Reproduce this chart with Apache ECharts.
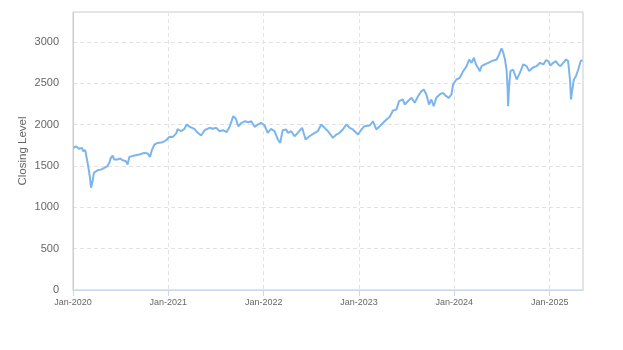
<!DOCTYPE html>
<html>
<head>
<meta charset="utf-8">
<script src="https://cdn.jsdelivr.net/npm/echarts@6/dist/echarts.min.js"></script>
<style>
  html, body { margin: 0; padding: 0; background: #fff; }
  #chart { width: 623px; height: 350px; }
</style>
</head>
<body>
<div id="chart"></div>
<script>
// Closing level observations (date, close)
const dates = [
  '2020-01-02','2020-01-12','2020-01-17','2020-01-25','2020-02-04','2020-02-09','2020-02-17','2020-02-21','2020-02-28',
  '2020-03-06','2020-03-10','2020-03-16','2020-03-21','2020-03-26','2020-04-04','2020-04-17','2020-04-30','2020-05-12',
  '2020-05-19','2020-05-25','2020-06-01','2020-06-07','2020-06-20','2020-06-30','2020-07-09','2020-07-22','2020-07-28',
  '2020-08-04','2020-08-23','2020-09-11','2020-09-30','2020-10-13','2020-10-22','2020-10-30','2020-11-08','2020-11-20',
  '2020-11-27','2020-12-10','2020-12-16','2020-12-23',
  '2021-01-04','2021-01-17','2021-01-30','2021-02-05','2021-02-18','2021-02-24','2021-03-03','2021-03-12','2021-03-22',
  '2021-03-28','2021-04-10','2021-04-23','2021-05-06','2021-05-19','2021-06-07','2021-06-20','2021-07-03','2021-07-16',
  '2021-07-29','2021-08-11','2021-08-24','2021-09-06','2021-09-16','2021-09-25','2021-10-08','2021-10-21','2021-11-03',
  '2021-11-14','2021-11-27','2021-12-10','2021-12-22',
  '2022-01-04','2022-01-16','2022-01-29','2022-02-11','2022-02-24','2022-03-05','2022-03-14','2022-03-21','2022-03-28',
  '2022-04-03','2022-04-10','2022-04-16','2022-04-29','2022-05-11','2022-05-28','2022-06-10','2022-06-25','2022-07-15',
  '2022-07-27','2022-08-09','2022-08-22','2022-09-04','2022-09-23','2022-10-06','2022-10-18','2022-10-31','2022-11-13',
  '2022-11-26','2022-12-08','2022-12-28',
  '2023-01-10','2023-01-22','2023-02-11','2023-02-23','2023-03-08','2023-03-21','2023-04-03','2023-04-16','2023-04-28',
  '2023-05-11','2023-05-24','2023-06-03','2023-06-09','2023-06-18','2023-06-25','2023-07-07','2023-07-21','2023-08-02',
  '2023-08-15','2023-08-28','2023-09-06','2023-09-16','2023-09-26','2023-10-05','2023-10-14','2023-10-24','2023-11-06',
  '2023-11-18','2023-12-01','2023-12-11','2023-12-21','2023-12-27',
  '2024-01-09','2024-01-22','2024-02-04','2024-02-17','2024-02-27','2024-03-07','2024-03-16','2024-03-24','2024-04-01',
  '2024-04-08','2024-04-14','2024-04-27','2024-05-10','2024-05-16','2024-05-23','2024-05-30','2024-06-11','2024-06-21',
  '2024-06-30','2024-07-06','2024-07-13','2024-07-19','2024-07-23','2024-07-25','2024-07-29','2024-08-03','2024-08-13',
  '2024-08-20','2024-08-27','2024-09-02','2024-09-08','2024-09-21','2024-10-04','2024-10-14','2024-10-27','2024-11-11',
  '2024-11-24','2024-12-07','2024-12-17','2024-12-26',
  '2025-01-03','2025-01-14','2025-01-24','2025-02-02','2025-02-11','2025-02-21','2025-03-04','2025-03-12','2025-03-19',
  '2025-03-23','2025-03-28','2025-04-03','2025-04-11','2025-04-20','2025-04-29','2025-05-06'
];
const closes = [
  1718,1737,1755,1706,1718,1680,1690,1620,1500,
  1360,1236,1314,1415,1435,1447,1455,1476,1496,
  1537,1597,1625,1577,1577,1590,1568,1556,1516,
  1609,1625,1637,1657,1651,1609,1697,1758,1778,
  1778,1786,1798,1810,
  1851,1850,1890,1945,1919,1907,1948,2000,1975,
  1960,1948,1900,1867,1931,1960,1948,1960,1919,
  1931,1907,1980,2101,2069,1980,2021,2040,2028,
  2040,1972,2000,2021,
  1988,1900,1948,1919,1819,1778,1930,1940,1940,
  1900,1900,1919,1858,1900,1960,1819,1858,1900,
  1919,2000,1960,1919,1839,1879,1900,1940,2000,
  1960,1940,1879,
  1940,1980,1988,2040,1940,1980,2021,2061,2090,
  2170,2180,2282,2290,2302,2242,2282,2323,2262,
  2342,2403,2423,2363,2242,2302,2221,2323,2363,
  2383,2342,2323,2363,2484,
  2544,2565,2645,2705,2786,2746,2807,2726,2686,
  2645,2705,2726,2746,2766,2766,2746,2786,2850,
  2920,2875,2786,2665,2444,2221,2464,2645,2665,
  2686,2544,2524,2625,2726,2705,2645,2686,2705,
  2746,2726,2778,2766,
  2714,2746,2766,2726,2705,2746,2786,2766,2544,
  2302,2423,2544,2584,2665,2766,2780
];
const xTickLabels = ['Jan-2020','Jan-2021','Jan-2022','Jan-2023','Jan-2024','Jan-2025'];
const yTicks = [0, 500, 1000, 1500, 2000, 2500, 3000];

// x positions are days since the start of 2020
const DAY = 86400000;
const origin = Date.UTC(2020, 0, 1);
function dayOffset(s) {
  const p = s.split('-').map(Number);
  return (Date.UTC(p[0], p[1] - 1, p[2]) - origin) / DAY;
}
const seriesData = dates.map((d, i) => [dayOffset(d), closes[i]]);
const YEAR = 365.25;

const chart = echarts.init(document.getElementById('chart'), null, { renderer: 'canvas' });
chart.setOption({
  animation: false,
  backgroundColor: '#ffffff',
  grid: {
    left: 73, right: 40, top: 12, bottom: 60,
    show: true, borderColor: '#cccccc', borderWidth: 1, backgroundColor: 'transparent'
  },
  xAxis: {
    type: 'value',
    min: 0,
    max: dayOffset('2025-05-08'),
    interval: YEAR,
    axisLine: { show: true, lineStyle: { color: '#ccd6eb', width: 1 } },
    axisTick: { show: true, length: 6, lineStyle: { color: '#ccd6eb' } },
    axisLabel: {
      color: '#666666', fontSize: 9, fontFamily: 'Liberation Sans, Arial, sans-serif',
      margin: 8, showMaxLabel: false,
      formatter: v => xTickLabels[Math.round(v / YEAR)] || ''
    },
    splitLine: { show: true, lineStyle: { color: '#e2e2e2', type: [4, 3], width: 1 } }
  },
  yAxis: {
    type: 'value',
    min: yTicks[0],
    max: 3360,
    interval: 500,
    name: 'Closing Level',
    nameLocation: 'middle',
    nameGap: 44,
    nameMoveOverlap: false,
    nameTextStyle: { color: '#666666', fontSize: 11.5, fontFamily: 'Liberation Sans, Arial, sans-serif' },
    axisLine: { show: true, lineStyle: { color: '#cccccc', width: 1 } },
    axisTick: { show: false },
    axisLabel: {
      color: '#666666', fontSize: 11, fontFamily: 'Liberation Sans, Arial, sans-serif',
      margin: 14, showMaxLabel: false,
      formatter: v => String(v)
    },
    splitLine: { show: true, lineStyle: { color: '#e2e2e2', type: [4, 3], width: 1 } }
  },
  series: [{
    type: 'line',
    data: seriesData,
    showSymbol: false,
    smooth: false,
    lineStyle: { color: '#7cb5ec', width: 2 },
    itemStyle: { color: '#7cb5ec' }
  }]
});
</script>
</body>
</html>
